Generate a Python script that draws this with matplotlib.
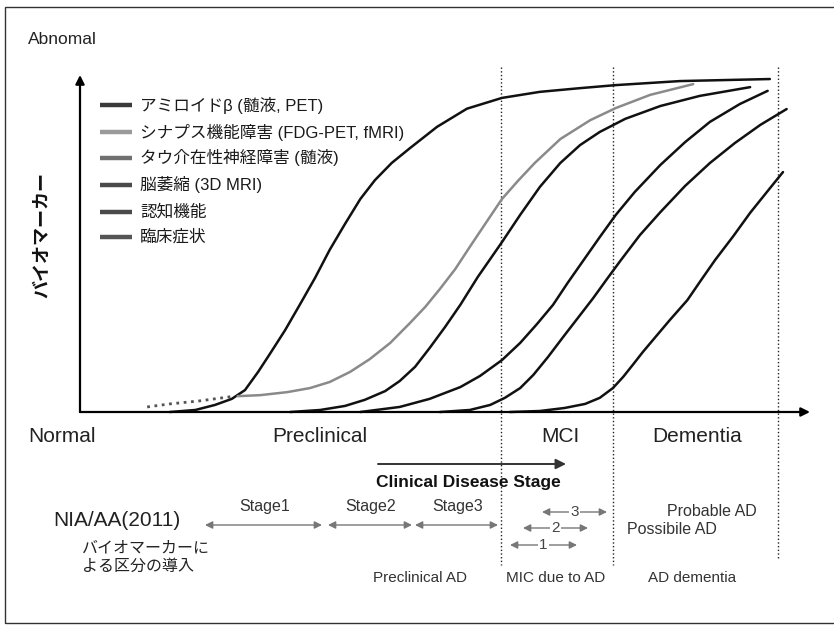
import matplotlib
matplotlib.use('Agg')
import matplotlib.pyplot as plt
from matplotlib.patches import Rectangle

plt.rcParams['font.family'] = ['Liberation Sans', 'Noto Sans CJK JP', 'DejaVu Sans']

# biomarker curves: x = time (0-100), y = biomarker level (0-100)
amyloid_x = [12.3, 15.8, 18.5, 20.8, 22.6, 24.4, 26.0, 28.1, 30.1, 32.2, 34.2, 36.3, 38.4,
             40.4, 42.7, 45.2, 48.9, 53.0, 57.8, 63.0, 68.5, 73.4, 82.2, 94.5]
amyloid_y = [0, 0.6, 2.1, 3.9, 6.5, 11.9, 17.2, 24.3, 31.8, 39.8, 48.1, 55.8, 63.2,
             68.8, 73.9, 78.3, 84.6, 90.0, 93.2, 95.0, 96.1, 97.0, 98.2, 98.8]

synapse_pre_x = [9.2, 12.3, 16.4, 21.2]
synapse_pre_y = [1.5, 2.4, 3.3, 4.7]
synapse_x = [21.6, 24.7, 28.4, 31.5, 34.2, 37.0, 39.7, 42.5, 45.2, 47.3, 49.3, 51.4, 53.4,
             55.5, 57.8, 60.0, 62.3, 65.8, 69.9, 73.4, 78.1, 84.0]
synapse_y = [4.7, 5.0, 5.9, 7.1, 8.9, 11.9, 15.7, 20.5, 26.4, 31.2, 36.5, 42.4, 49.0,
             55.8, 63.2, 68.6, 73.9, 81.0, 86.6, 90.2, 94.1, 97.3]

tau_x = [28.8, 32.9, 36.3, 39.0, 41.8, 43.8, 45.9, 47.9, 50.0, 52.1, 54.5, 57.8, 60.3, 63.0,
         65.8, 68.5, 71.2, 74.7, 79.5, 84.9, 91.8]
tau_y = [0, 0.6, 1.8, 3.6, 6.2, 9.2, 13.4, 19.0, 25.2, 31.8, 40.1, 50.4, 58.5, 66.8,
         73.9, 79.2, 83.1, 87.0, 90.8, 93.8, 96.4]

atrophy_x = [38.4, 43.8, 47.9, 52.1, 54.8, 57.8, 60.3, 62.6, 64.8, 66.8, 68.9, 71.2, 73.4,
             76.0, 79.5, 82.9, 86.3, 90.4, 94.2]
atrophy_y = [0, 1.5, 3.9, 7.4, 10.7, 15.4, 20.5, 26.1, 31.8, 38.3, 44.8, 51.9, 58.5,
             65.3, 73.3, 80.1, 86.1, 91.4, 95.3]

cognition_x = [49.3, 53.4, 56.2, 58.2, 60.3, 62.1, 64.1, 66.2, 68.2, 70.3, 72.2, 74.0, 76.7,
               79.5, 82.9, 86.3, 89.7, 93.2, 96.8]
cognition_y = [0, 0.6, 2.1, 4.2, 7.1, 11.0, 16.3, 22.3, 27.9, 33.8, 39.5, 44.8, 52.5,
               59.3, 67.1, 73.9, 79.8, 85.2, 89.9]

clinical_x = [58.9, 63.0, 66.4, 69.2, 71.2, 73.0, 74.4, 75.8, 77.1, 78.5, 80.8, 83.2, 85.1,
              87.0, 89.5, 91.8, 94.1, 96.3]
clinical_y = [0, 0.3, 1.2, 2.4, 4.2, 7.1, 10.4, 14.2, 17.8, 21.4, 27.3, 33.2, 39.2,
              45.1, 52.2, 59.1, 65.3, 71.2]

legend_labels = ['アミロイドβ (髄液, PET)', 'シナプス機能障害 (FDG-PET, fMRI)',
                 'タウ介在性神経障害 (髄液)', '脳萎縮 (3D MRI)', '認知機能', '臨床症状']
legend_colors = ['#3a3a3a', '#9a9a9a', '#707070', '#4a4a4a', '#4a4a4a', '#555555']

stage_bounds = [57.7, 73.0, 95.6]
phase_labels = ['Preclinical', 'MCI', 'Dementia']
nia_stages = ['Stage1', 'Stage2', 'Stage3']
mci_stages = ['1', '2', '3']
nia_groups = ['Preclinical AD', 'MIC due to AD', 'AD dementia']

# pixel -> data helper, used only for placing annotations
PX_X, PX_Y = 7.3, 3.37


def px(x, y):
    return ((x - 80) / PX_X, (412 - y) / PX_Y)


fig = plt.figure(figsize=(8.34, 6.27), dpi=100)
ax = fig.add_axes([0, 0, 1, 1])
ax.set_xlim(-80 / PX_X, 754 / PX_X)
ax.set_ylim((412 - 627) / PX_Y, 412 / PX_Y)
ax.axis('off')

fig.patches.append(Rectangle((5 / 834, 4 / 627), 0.999, 616 / 627, transform=fig.transFigure,
                             fill=False, lw=1.0, ec='#333333'))

# axes arrows
arrow_kw = dict(arrowstyle='-|>', lw=1.6, color='black', mutation_scale=13, shrinkA=0, shrinkB=0)
ax.annotate('', xy=(0, 100), xytext=(0, 0), arrowprops=arrow_kw, annotation_clip=False)
ax.annotate('', xy=(100, 0), xytext=(0, 0), arrowprops=arrow_kw, annotation_clip=False)

# stage boundaries
for i, b in enumerate(stage_bounds):
    bottom = -45.4 if i < 2 else -44.0
    ax.plot([b, b], [102.4, bottom], ls=':', lw=1.0, color='#222222', clip_on=False)

line_kw = dict(lw=1.8, solid_joinstyle='round', solid_capstyle='round')
ax.plot(synapse_pre_x, synapse_pre_y, ls=':', lw=2.0, color='#555555')
ax.plot(amyloid_x, amyloid_y, color='#111111', **line_kw)
ax.plot(synapse_x, synapse_y, color='#8a8a8a', **line_kw)
ax.plot(tau_x, tau_y, color='#111111', **line_kw)
ax.plot(atrophy_x, atrophy_y, color='#111111', **line_kw)
ax.plot(cognition_x, cognition_y, color='#111111', **line_kw)
ax.plot(clinical_x, clinical_y, color='#111111', **line_kw)

# legend
legend_y = [105, 132, 158, 185, 212, 237]
for lab, col, yy in zip(legend_labels, legend_colors, legend_y):
    x0, y0 = px(100, yy)
    x1, _ = px(132, yy)
    ax.plot([x0, x1], [y0, y0], color=col, lw=3.2, solid_capstyle='butt')
    tx, ty = px(140, yy)
    ax.text(tx, ty, lab, fontsize=12, va='center', ha='left', color='#1a1a1a')

# axis texts
ax.text(*px(28, 39), 'Abnomal', fontsize=12.5, va='center', ha='left', color='#222222')
ax.text(*px(28, 436), 'Normal', fontsize=15, va='center', ha='left', color='#222222')
ax.text(*px(43, 235), 'バイオマーカー', fontsize=13, rotation=90, va='center', ha='center',
        fontweight='bold', color='#111111')
for lab, xc in zip(phase_labels, [320, 560, 697]):
    ax.text(*px(xc, 436), lab, fontsize=15, va='center', ha='center', color='#222222')

# clinical disease stage arrow
ax.annotate('', xy=px(566, 464), xytext=px(378, 464), annotation_clip=False,
            arrowprops=dict(arrowstyle='-|>', lw=1.4, color='#333333', mutation_scale=15,
                            shrinkA=0, shrinkB=0))
ax.text(*px(468, 483), 'Clinical Disease Stage', fontsize=12.5, fontweight='bold',
        va='center', ha='center', color='#111111')

# NIA/AA
ax.text(*px(53, 521), 'NIA/AA(2011)', fontsize=15, va='center', ha='left', color='#222222')
ax.text(*px(82, 548), 'バイオマーカーに', fontsize=11.5, va='center', ha='left', color='#222222')
ax.text(*px(82, 566), 'よる区分の導入', fontsize=11.5, va='center', ha='left', color='#222222')

two_head = dict(arrowstyle='<|-|>', lw=1.0, color='#777777', mutation_scale=11,
                shrinkA=0, shrinkB=0)
for lab, (xa, xb) in zip(nia_stages, [(205, 322), (328, 412), (415, 498)]):
    ax.annotate('', xy=px(xb, 525), xytext=px(xa, 525), arrowprops=two_head,
                annotation_clip=False)
    ax.text(*px((xa + xb) / 2 + 1, 507), lab, fontsize=11.5, va='center', ha='center',
            color='#333333')

for lab, (xa, xb, yy) in zip(mci_stages, [(510, 577, 545), (523, 588, 528), (542, 607, 512)]):
    ax.annotate('', xy=px(xb, yy), xytext=px(xa, yy), arrowprops=two_head,
                annotation_clip=False)
    ax.text(*px((xa + xb) / 2, yy), lab, fontsize=11, va='center', ha='center',
            color='#444444', bbox=dict(fc='white', ec='none', pad=0.5))

ax.text(*px(667, 512), 'Probable AD', fontsize=11.5, va='center', ha='left', color='#333333')
ax.text(*px(627, 530), 'Possibile AD', fontsize=11.5, va='center', ha='left', color='#333333')

for lab, xc in zip(nia_groups, [420, 556, 692]):
    ax.text(*px(xc, 578), lab, fontsize=11, va='center', ha='center', color='#333333')

fig.savefig('out.png', dpi=100)
